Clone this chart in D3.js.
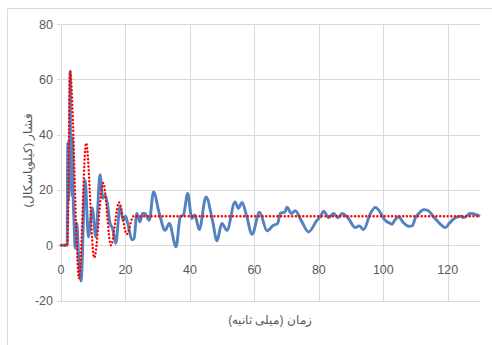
<!DOCTYPE html>
<html><head><meta charset="utf-8">
<script src="https://cdn.jsdelivr.net/npm/d3@7"></script>
<style>
html,body{margin:0;padding:0;background:#fff;}
text{font-family:"Liberation Sans Narrow","Arial Narrow","Liberation Sans",sans-serif;}
</style></head>
<body>
<svg id="c" width="492" height="345"></svg>
<script>
const xTicks = [0,20,40,60,80,100,120];
const yTicks = [-20,0,20,40,60,80];
const xTitle = "زمان (میلی ثانیه)";
const yTitle = "فشار (کیلوپاسکال)";

const measuredT = [0,1.9,2.1,2.3,2.5,2.7,2.85,3.0,3.2,3.4,3.6,3.8,4.0,4.4,4.9,5.5,6.2,7.5,8.5,9.7,10.8,12.1,13,13.7,14.4,15.2,16,17,18.3,19.3,20,20.7,22,22.7,23.5,24.5,25.3,26,27.4,28.7,30.5,32.3,33.6,35.7,37,38,39.3,40.6,41.5,42.9,45,47,48.4,49.9,51.5,54,55,56.2,57.5,59.3,61.6,63.9,65.9,67.2,68,69.5,70.1,71.5,72.7,74.5,76.8,79.4,80.5,81.5,83,84.6,86,87.2,89,91.3,92.5,93.9,96,97.5,99,100.2,101.1,102,102.7,103.5,104.8,106,107.9,109,109.9,111,112.5,114,115.6,117,119.3,120.5,122.4,124,125,127,129,130];
const measuredP = [0,0,37,16,38,20,63,25,40,18,38,16,10,-1,8,-5,-13,23.5,3,13.5,3,25.5,17,18,15,8,6,0.7,14,9,10.5,8,2,2.5,11.5,8.5,11.5,11.5,9,19.3,11.5,5.4,7.9,-0.6,10.3,11,18.7,9.7,11,5.7,17.5,9,1.6,7.9,5.4,15.7,13.4,15.5,11,4,12,5.2,7.2,7.8,11.5,12,13.8,11.5,12.5,9,4.8,9,10.5,12.3,10,11.5,10,11.5,10,6.4,7,5.7,11.5,13.7,12,9.5,8.5,8,7.6,9,10.3,8.5,6.9,7,9.8,11.5,12.9,12.5,10.3,8.5,6.4,8,10,10.5,10,11.5,11,10.5];

const modelT = [0,2,2.8,5.6,7.8,10.3,13.1,15.5,18,20.4,22.5,130];
const modelP = [0,0,63,-12,37,-4.5,22.5,0,15.5,4,10.5,10.5];

const svg = d3.select("#c");
const x = d3.scaleLinear().domain([0,130]).range([61,480]);
const y = d3.scaleLinear().domain([-20,80]).range([300.5,24.2]);

// chart border
svg.append("path").attr("d","M7.5,345 V8.5 H492").attr("fill","none").attr("stroke","#d9d9d9").attr("stroke-width",1);

// gridlines
const g = svg.append("g");
g.selectAll(".hg").data(yTicks).join("line")
  .attr("x1",57).attr("x2",480).attr("y1",d=>Math.round(y(d))+0.5).attr("y2",d=>Math.round(y(d))+0.5)
  .attr("stroke","#d9d9d9").attr("stroke-width",1);
g.selectAll(".vg").data(xTicks).join("line")
  .attr("x1",d=>Math.round(x(d))+0.5).attr("x2",d=>Math.round(x(d))+0.5)
  .attr("y1",y(80)).attr("y2",y(-20)+1)
  .attr("stroke","#d9d9d9").attr("stroke-width",1);

// tick labels
svg.selectAll(".yl").data(yTicks).join("text")
  .attr("x",53).attr("y",d=>y(d)+4.5).attr("text-anchor","end")
  .attr("font-size",12.5).attr("fill","#595959").text(d=>d);
svg.selectAll(".xl").data(xTicks).join("text")
  .attr("x",d=>x(d)).attr("y",274).attr("text-anchor","middle")
  .attr("font-size",12.5).attr("fill","#595959").text(d=>d);

// titles
svg.append("text").attr("transform","translate(32,160) rotate(-90)")
  .attr("text-anchor","middle").attr("font-size",11.5).attr("fill","#595959")
  .attr("font-family","'Noto Sans','DejaVu Sans',sans-serif").text(yTitle);
svg.append("text").attr("x",270).attr("y",324)
  .attr("text-anchor","middle").attr("font-size",12).attr("fill","#595959")
  .attr("font-family","'Noto Sans','DejaVu Sans',sans-serif").text(xTitle);

// series
const measured = measuredT.map((t,i)=>[t,measuredP[i]]);
const model = modelT.map((t,i)=>[t,modelP[i]]);
const line = d3.line().x(d=>x(d[0])).y(d=>y(d[1])).curve(d3.curveMonotoneX);

svg.append("path").datum(measured).attr("d",line)
  .attr("fill","none").attr("stroke","#5282c0").attr("stroke-width",2.9).attr("stroke-linejoin","round");
svg.append("path").datum(model).attr("d",line)
  .attr("fill","none").attr("stroke","#ff0000").attr("stroke-width",2.4)
  .attr("stroke-dasharray","0.1 3.6").attr("stroke-linecap","round");
</script>
</body></html>
